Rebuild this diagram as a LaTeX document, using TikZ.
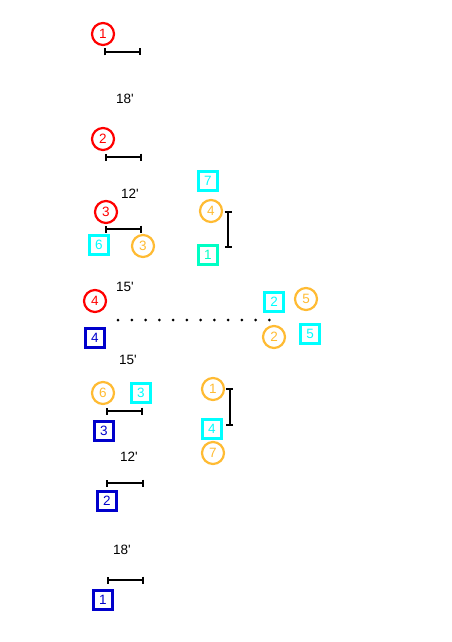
\documentclass[tikz,border=0pt]{standalone}
\usepackage{fontspec}
\setmainfont{Liberation Sans}
\usepackage{tikz}
\usetikzlibrary{arrows.meta}
\definecolor{PtRed}{HTML}{FF0000}
\definecolor{PtOrange}{HTML}{FFBB33}
\definecolor{PtCyan}{HTML}{00FFFF}
\definecolor{PtTeal}{HTML}{00FFC4}
\definecolor{PtBlue}{HTML}{0000CC}

\begin{document}
\begin{tikzpicture}[x=1pt, y=-1pt,
  rnum/.style={circle, draw=PtRed, line width=2.2pt, minimum size=22pt,
               inner sep=0pt, text=PtRed, font=\fontsize{13.5}{13.5}\selectfont},
  onum/.style={rnum, draw=PtOrange, text=PtOrange},
  cnum/.style={rectangle, draw=PtCyan, line width=2.2pt, minimum size=19pt,
               inner sep=0pt, text=PtCyan, font=\fontsize{13.5}{13.5}\selectfont},
  bnum/.style={cnum, draw=PtBlue, text=PtBlue},
  dimbar/.style={line width=2pt, {Bar[width=7pt]}-{Bar[width=7pt]}},
  dist/.style={font=\fontsize{13.5}{13.5}\selectfont}
]
  \useasboundingbox (0,0) rectangle (451,642);

  % upper run, red stations
  \node[rnum] (r1) at (103, 34)  {1};
  \coordinate (b1a) at (104, 52);  \coordinate (b1b) at (141, 52);
  \draw[dimbar] (b1a) -- (b1b);
  \node[dist] (d1) at (125, 99) {18\textquotesingle};
  \node[rnum] (r2) at (103, 139) {2};
  \coordinate (b2a) at (105, 157); \coordinate (b2b) at (142, 157);
  \draw[dimbar] (b2a) -- (b2b);
  \node[dist] (d2) at (130, 194) {12\textquotesingle};
  \node[rnum] (r3) at (106, 212) {3};
  \coordinate (b3a) at (105, 229); \coordinate (b3b) at (142, 229);
  \draw[dimbar] (b3a) -- (b3b);
  \node[cnum] (c6) at (99, 245)  {6};
  \node[onum] (o3) at (143, 246) {3};

  % upper right group
  \node[cnum] (c7) at (208, 181) {7};
  \node[onum] (o4) at (211, 211) {4};
  \node[cnum, draw=PtTeal, text=PtTeal] (c1) at (208, 255) {1};
  \coordinate (v1a) at (228, 211); \coordinate (v1b) at (228, 248);
  \draw[dimbar] (v1a) -- (v1b);

  % middle
  \node[dist] (d3) at (125, 287) {15\textquotesingle};
  \node[rnum] (r4) at (95, 301)  {4};
  \node[bnum] (q4) at (95, 338)  {4};
  \coordinate (dotA) at (118, 320); \coordinate (dotB) at (269.5, 320);
  \draw[line width=3pt, line cap=round, dash pattern=on 0pt off 13.77pt] (dotA) -- (dotB);
  \node[cnum] (c2) at (274, 302) {2};
  \node[onum] (o5) at (306, 299) {5};
  \node[onum] (o2) at (274, 337) {2};
  \node[cnum] (c5) at (310, 334) {5};
  \node[dist] (d4) at (128, 360) {15\textquotesingle};

  % lower run, blue stations
  \node[onum] (o6) at (103, 393) {6};
  \node[cnum] (c3) at (141, 393) {3};
  \coordinate (b4a) at (106, 411); \coordinate (b4b) at (143, 411);
  \draw[dimbar] (b4a) -- (b4b);
  \node[bnum] (q3) at (104, 431) {3};
  \node[dist] (d5) at (129, 457) {12\textquotesingle};
  \coordinate (b5a) at (106, 483); \coordinate (b5b) at (144, 483);
  \draw[dimbar] (b5a) -- (b5b);
  \node[bnum] (q2) at (107, 501) {2};
  \node[dist] (d6) at (122, 550) {18\textquotesingle};
  \coordinate (b6a) at (107, 580); \coordinate (b6b) at (144, 580);
  \draw[dimbar] (b6a) -- (b6b);
  \node[bnum] (q1) at (103, 600) {1};

  % lower right group
  \node[onum] (o1) at (213, 389) {1};
  \node[cnum] (c4) at (212, 429) {4};
  \node[onum] (o7) at (213, 453) {7};
  \coordinate (v2a) at (229.5, 388); \coordinate (v2b) at (229.5, 426);
  \draw[dimbar] (v2a) -- (v2b);
\end{tikzpicture}
\end{document}
